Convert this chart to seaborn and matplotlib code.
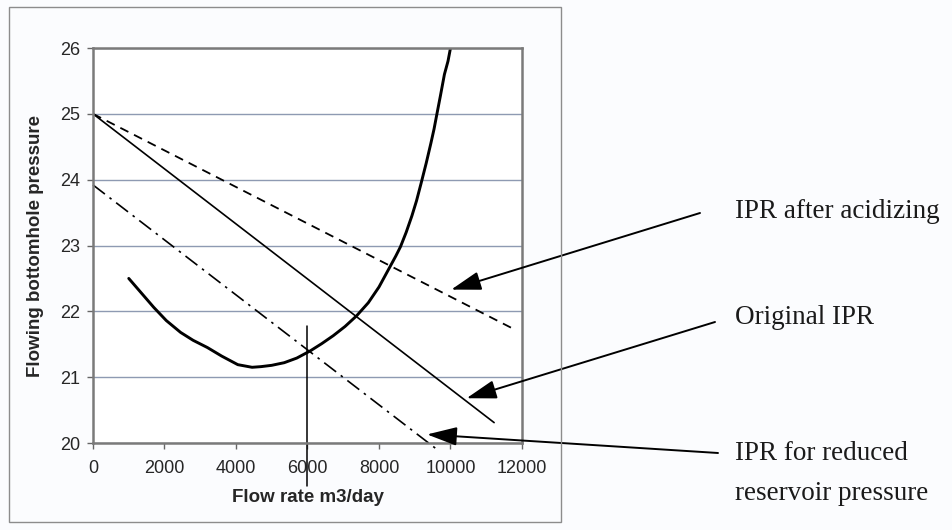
import numpy as np
import pandas as pd
import matplotlib
matplotlib.use('Agg')
import matplotlib.pyplot as plt
from matplotlib.patches import Rectangle
import seaborn as sns

# values
q_orig = [0, 11220]
p_orig = [25.0, 20.31]

q_acid = [0, 11700]
p_acid = [25.0, 21.75]

q_red = [0, 9700]
p_red = [23.92, 19.87]

q_out = [1000, 1350, 1700, 2050, 2450, 2800, 3200, 3600, 4050, 4450, 4700, 5000,
         5350, 5700, 6080, 6400, 6720, 7050, 7370, 7700, 8000, 8150, 8330, 8470,
         8600, 8760, 8920, 9050, 9180, 9320, 9450, 9540, 9610, 9720, 9830, 9930, 10000]
p_out = [22.50, 22.28, 22.06, 21.86, 21.68, 21.56, 21.45, 21.32, 21.19, 21.15, 21.16, 21.18,
         21.22, 21.29, 21.40, 21.51, 21.63, 21.77, 21.93, 22.13, 22.37, 22.52, 22.70, 22.84,
         22.98, 23.20, 23.45, 23.68, 23.95, 24.25, 24.55, 24.77, 24.97, 25.28, 25.60, 25.80, 26.0]

q_rate = [6000, 6000]
p_rate = [21.77, 19.35]

x_ticks = [0, 2000, 4000, 6000, 8000, 10000, 12000]
y_ticks = [20, 21, 22, 23, 24, 25, 26]

notes = ['IPR after acidizing', 'Original IPR', 'IPR for reduced', 'reservoir pressure']

sns.set_style('white')
plt.rcParams['font.family'] = ['Liberation Sans', 'DejaVu Sans']

fig = plt.figure(figsize=(9.53, 5.30), dpi=100)
fig.patch.set_facecolor('#fbfcfe')
ax = fig.add_axes([93/953, 1-443/530, (522-93)/953, (443-48)/530])
ax.set_facecolor('white')

# lines
sns.lineplot(x=q_orig, y=p_orig, ax=ax, color='black', lw=1.2)
sns.lineplot(x=q_acid, y=p_acid, ax=ax, color='black', lw=1.3, linestyle=(0, (5, 3.5)))
sns.lineplot(x=q_red, y=p_red, ax=ax, color='black', lw=1.2,
             linestyle=(0, (9, 3.5, 1.5, 3.5)))
ax.lines[-1].set_clip_on(False)
sns.lineplot(x=q_out, y=p_out, ax=ax, color='black', lw=2.1, sort=False, estimator=None)
sns.lineplot(x=q_rate, y=p_rate, ax=ax, color='black', lw=1.1, sort=False, estimator=None)
ax.lines[-1].set_clip_on(False)

ax.set_xlim(0, 12000)
ax.set_ylim(20, 26)
ax.set_xticks(x_ticks)
ax.set_yticks(y_ticks)
ax.yaxis.grid(True, color='#8e9ab2', lw=1.0)
ax.set_axisbelow(True)
ax.tick_params(axis='both', direction='out', length=4, width=1, color='#666666',
               labelsize=13, bottom=True, left=True)
ax.tick_params(axis='x', pad=8)
ax.tick_params(axis='y', pad=5)
for s in ax.spines.values():
    s.set_color('#7a7a7a')
    s.set_linewidth(1.8)

ax.set_xlabel('Flow rate m3/day', fontsize=13.5, fontweight='bold', labelpad=9)
ax.set_ylabel('Flowing bottomhole pressure', fontsize=13.5, fontweight='bold', labelpad=12)

# annotations with arrows
arrow = dict(arrowstyle='-|>,head_length=1.15,head_width=0.36', color='black',
             lw=1.4, mutation_scale=16, shrinkA=0, shrinkB=0)
ax.annotate('', xy=(10020, 22.33), xytext=(700, 317), textcoords='figure pixels',
            arrowprops=arrow)
ax.annotate('', xy=(10450, 20.68), xytext=(715, 208), textcoords='figure pixels',
            arrowprops=arrow)
ax.annotate('', xy=(9345, 20.13), xytext=(718, 77), textcoords='figure pixels',
            arrowprops=arrow)

serif = ['Liberation Serif', 'DejaVu Serif']
for txt, ypx in zip(notes, [319, 213, 77, 37]):
    fig.text(735/953, ypx/530, txt, fontsize=19.5, family=serif, color='#1a1a1a',
             ha='left', va='center')

# outer frame of the chart
fig.add_artist(Rectangle((9/953, 1-522/530), (561-9)/953, (522-7)/530,
                         transform=fig.transFigure, fill=False, ec='#8c8c8c', lw=1.0))

fig.savefig('out.png', dpi=100, facecolor=fig.get_facecolor())
